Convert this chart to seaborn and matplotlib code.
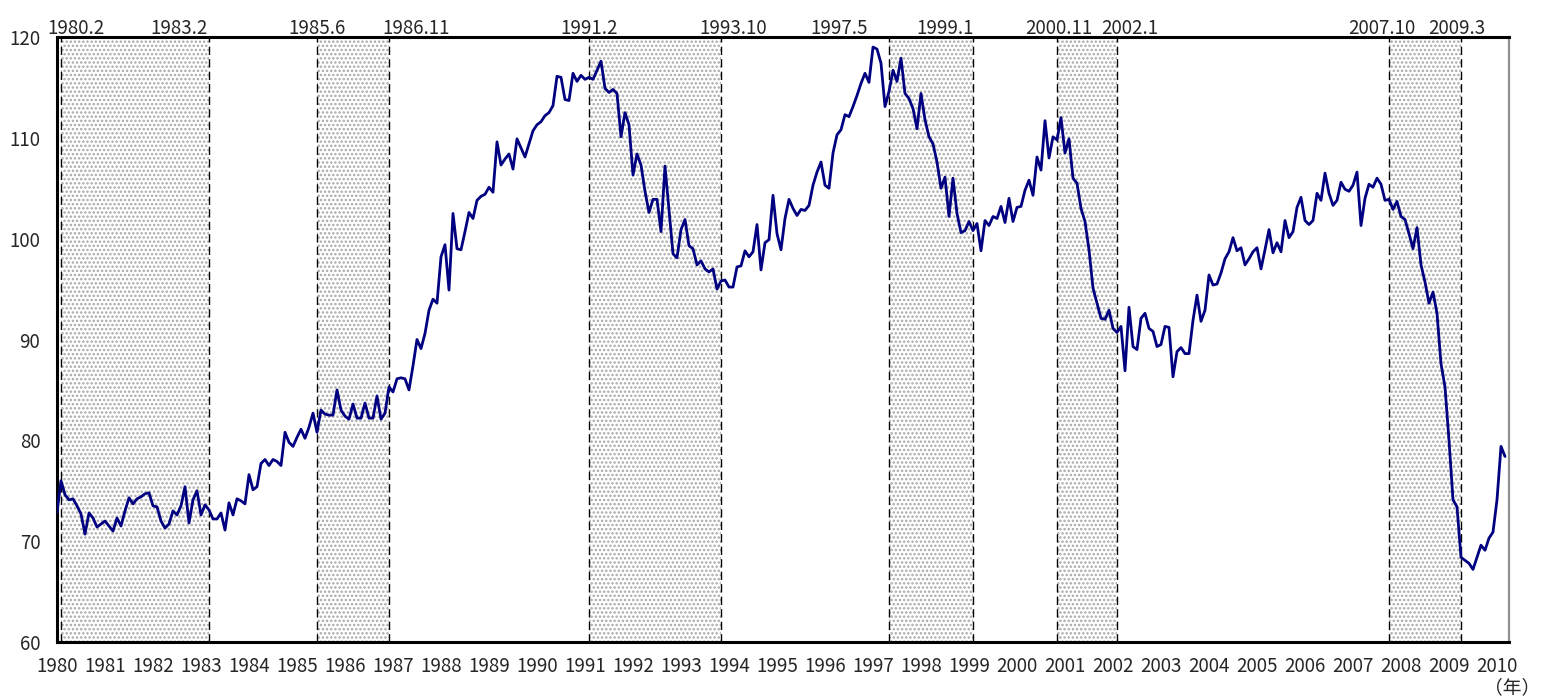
import numpy as np
import pandas as pd
import matplotlib
matplotlib.use("Agg")
import matplotlib.pyplot as plt
import seaborn as sns

# monthly index, Jan 1980 - Mar 2010
values_1980s = [
    72.8, 76.0, 74.6, 74.1, 74.2, 73.5, 72.7, 70.7, 72.8, 72.3, 71.4, 71.7,
    72.0, 71.5, 71.0, 72.3, 71.5, 73.0, 74.3, 73.7, 74.2, 74.4, 74.7, 74.8,
    73.5, 73.4, 72.0, 71.3, 71.7, 73.0, 72.6, 73.5, 75.4, 71.8, 74.1, 75.0,
    72.6, 73.6, 73.1, 72.2, 72.2, 72.8, 71.1, 73.8, 72.6, 74.2, 74.0, 73.7,
    76.6, 75.1, 75.4, 77.7, 78.1, 77.5, 78.1, 77.9, 77.5, 80.8, 79.8, 79.4,
    80.3, 81.1, 80.2, 81.3, 82.7, 80.8, 83.0, 82.6, 82.5, 82.5, 85.0, 83.0,
    82.4, 82.1, 83.6, 82.2, 82.2, 83.7, 82.2, 82.2, 84.4, 82.1, 82.7, 85.3,
    84.8, 86.1, 86.2, 86.1, 85.0, 87.4, 90.0, 89.1, 90.6, 92.9, 94.0, 93.6,
    98.2, 99.4, 94.9, 102.5, 99.0, 98.9, 100.7, 102.6, 102.0, 103.8, 104.2, 104.4,
    105.1, 104.6, 109.6, 107.3, 107.9, 108.4, 106.9, 109.9, 109.0, 108.1, 109.4, 110.7,
]
values_1990s = [
    111.3, 111.6, 112.2, 112.5, 113.2, 116.1, 116.0, 113.8, 113.7, 116.4, 115.6, 116.2,
    115.8, 116.0, 115.8, 116.7, 117.6, 114.9, 114.5, 114.8, 114.4, 110.1, 112.5, 111.3,
    106.3, 108.4, 107.3, 104.7, 102.6, 103.9, 103.9, 100.7, 107.2, 102.8, 98.5, 98.1,
    100.9, 101.9, 99.3, 99.0, 97.4, 97.8, 97.0, 96.7, 97.0, 95.0, 95.8, 95.9,
    95.2, 95.2, 97.2, 97.3, 98.8, 98.2, 98.7, 101.4, 96.9, 99.6, 99.9, 104.3,
    100.5, 98.9, 102.0, 103.9, 103.0, 102.3, 102.9, 102.8, 103.3, 105.3, 106.6, 107.6,
    105.3, 105.0, 108.5, 110.3, 110.8, 112.3, 112.1, 113.1, 114.2, 115.4, 116.4, 115.5,
    119.0, 118.8, 117.4, 113.1, 114.6, 116.7, 115.6, 117.9, 114.4, 113.9, 112.9, 110.9,
    114.4, 111.8, 110.1, 109.4, 107.6, 105.0, 106.1, 102.2, 106.0, 102.5, 100.6, 100.8,
    101.7, 100.8, 101.5, 98.8, 101.8, 101.3, 102.2, 102.0, 103.2, 101.6, 104.0, 101.7,
]
values_2000s = [
    103.1, 103.2, 104.8, 105.8, 104.3, 108.1, 106.8, 111.7, 108.0, 110.1, 109.8, 112.0,
    108.5, 109.9, 106.0, 105.5, 103.0, 101.7, 98.9, 95.1, 93.6, 92.1, 92.0, 92.9,
    91.1, 90.7, 91.3, 86.9, 93.2, 89.3, 89.0, 92.1, 92.6, 91.1, 90.8, 89.3,
    89.5, 91.3, 91.2, 86.3, 88.8, 89.2, 88.6, 88.6, 91.9, 94.4, 91.8, 92.9,
    96.4, 95.4, 95.5, 96.6, 98.0, 98.7, 100.1, 98.8, 99.1, 97.4, 98.0, 98.7,
    99.1, 97.0, 98.9, 100.9, 98.6, 99.6, 98.7, 101.8, 100.1, 100.7, 103.1, 104.1,
    101.8, 101.4, 101.8, 104.5, 103.8, 106.5, 104.5, 103.3, 103.8, 105.6, 104.9, 104.7,
    105.3, 106.6, 101.3, 104.0, 105.4, 105.1, 106.0, 105.4, 103.8, 103.9, 102.9, 103.7,
    102.2, 101.9, 100.5, 99.0, 101.1, 97.4, 95.7, 93.6, 94.7, 92.6, 87.6, 85.3,
    80.0, 74.1, 73.4, 68.4, 68.1, 67.8, 67.2, 68.4, 69.6, 69.1, 70.3, 70.9,
]
values_2010 = [74.1, 79.4, 78.4]

# recession periods (peak, trough)
peaks = ["1980.2", "1985.6", "1991.2", "1997.5", "2000.11", "2007.10"]
troughs = ["1983.2", "1986.11", "1993.10", "1999.1", "2002.1", "2009.3"]
years = list(range(1980, 2011))

values = values_1980s + values_1990s + values_2000s + values_2010
df = pd.DataFrame({"t": 1980 + np.arange(len(values)) / 12, "v": values})

sns.set_style("white")
plt.rcParams["font.family"] = ["Noto Sans CJK JP", "DejaVu Sans"]
plt.rcParams["hatch.linewidth"] = 1.2
FS = 13.5

fig = plt.figure(figsize=(15.41, 6.98), dpi=100)
ax = fig.add_axes([57 / 1541, 1 - 642 / 698, 1452 / 1541, 605 / 698])


def ym(s):
    y, m = s.split(".")
    return int(y), int(m)


# label shifts in pixels relative to the dashed line
peak_shift = [15, 0, 0, -50, 2, -7]
trough_shift = [-30, 27, 12, -28, 13, -4]

for p, tr, ps, ts in zip(peaks, troughs, peak_shift, trough_shift):
    py, pm = ym(p)
    ty, tm = ym(tr)
    x0 = py + (pm - 1) / 12
    x1 = ty + tm / 12
    ax.axvspan(x0, x1, facecolor="white", edgecolor="#a8a8a8", hatch="....",
               linewidth=0, zorder=0)
    for x, lab, sh in [(x0, p, ps), (x1, tr, ts)]:
        ax.axvline(x, color="black", lw=1, ls=(0, (6, 3)), zorder=1)
        ax.annotate(lab, xy=(x, 120), xytext=(sh * 0.72, 2),
                    textcoords="offset points", ha="center", va="baseline",
                    fontsize=FS, annotation_clip=False)

sns.lineplot(data=df, x="t", y="v", color="#000080", lw=2.0, ax=ax, zorder=3)

ax.set_xlim(1980, 2010.25)
ax.set_ylim(60, 120)
ax.set_xticks(years)
ax.set_xticklabels([str(y) for y in years])
ax.set_yticks(range(60, 121, 10))
ax.set_xlabel("")
ax.set_ylabel("")
ax.tick_params(axis="x", direction="in", length=5, width=1.5, pad=10,
               labelsize=FS, color="black")
ax.tick_params(axis="y", direction="in", length=4, width=1.2, pad=12,
               labelsize=FS, color="black")
for s in ["left", "bottom", "top"]:
    ax.spines[s].set_color("black")
    ax.spines[s].set_linewidth(2.2)
ax.spines["right"].set_color("#909090")
ax.spines["right"].set_linewidth(1.6)

fig.text(1512 / 1541, 1 - 688 / 698, "（年）", ha="center", va="center",
         fontsize=FS)

fig.savefig("out.png", dpi=100)
